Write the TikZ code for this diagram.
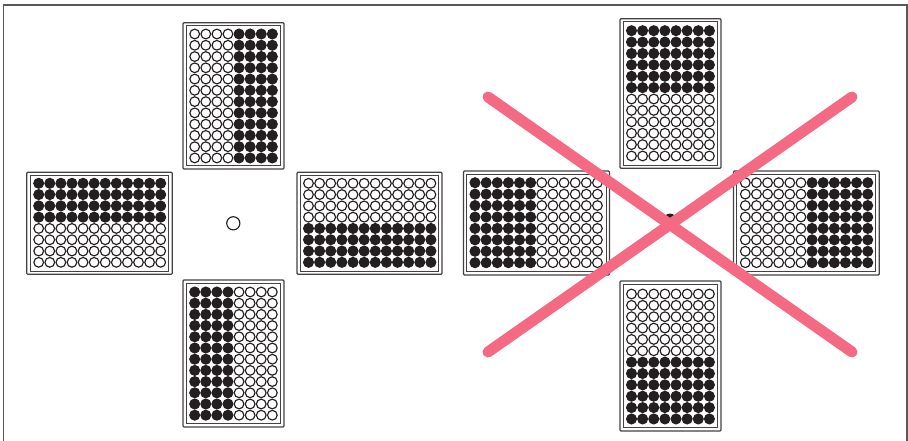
\documentclass[tikz,border=0pt]{standalone}
\definecolor{ink}{HTML}{231F20}
\definecolor{crossred}{HTML}{F46A82}
\tikzset{
  plateouter/.style={draw=ink!85,line width=1.2pt,rounded corners=1pt,fill=white},
  plateinner/.style={draw=ink!85,line width=1.1pt},
  wellopen/.style={draw=ink,line width=1.15pt,fill=white},
  wellfull/.style={draw=ink,line width=1pt,fill=ink},
  crossline/.style={draw=crossred,line width=11pt,line cap=round},
  framing/.style={draw=ink!75,line width=1.3pt}
}
% outer corners #1,#2 -- #3,#4; first well #5,#6; well pitch #7,#8;
% columns, rows and fill rule are read from \pcols, \prows and \pfull (a condition on \c and \r)
\newcommand{\plate}[8]{%
  \draw[plateouter] (#1,#2) rectangle (#3,#4);
  \draw[plateinner] (#1+3.4,#2+3.2) rectangle (#3-3.4,#4-3.2);
  \foreach \c in {1,...,\pcols}{
    \foreach \r in {1,...,\prows}{
      \pgfmathsetmacro{\xx}{#5+(\c-1)*#7}
      \pgfmathsetmacro{\yy}{#6+(\r-1)*#8}
      \pgfmathtruncatemacro{\isfull}{(\pfull)?1:0}
      \ifnum\isfull=1
        \path[wellfull] (\xx,\yy) circle (5);
      \else
        \path[wellopen] (\xx,\yy) circle (4.85);
      \fi
    }
  }}
\begin{document}
\begin{tikzpicture}[x=1pt,y=-1pt]
\useasboundingbox (0,0) rectangle (908,441);
\draw[framing] (3.5,441) -- (3.5,5) -- (907,5) -- (907,441);
% left group
\def\pcols{8}\def\prows{12}
\def\pfull{\c>4}
\plate{183}{22.7}{284}{169}{194.7}{34}{11.09}{11.27}
\def\pfull{\c<=4}
\plate{183}{280}{284}{427}{194.7}{292}{11.09}{11.2}
\def\pcols{12}\def\prows{8}
\def\pfull{\r<=4}
\plate{26.7}{172.3}{172.3}{274.3}{38.7}{183.3}{11.09}{11.29}
\def\pfull{\r>4}
\plate{297}{172.3}{442}{274.3}{308.5}{183.3}{11.13}{11.29}
\path[wellopen] (233.3,223.3) circle (6.6);
% right group
\def\pcols{8}\def\prows{12}
\def\pfull{\r<=6}
\plate{620}{18.7}{721}{168.3}{631.5}{30.7}{11.13}{11.39}
\def\pfull{\r>6}
\plate{620}{281}{721}{431}{631.5}{294}{11.13}{11.36}
\def\pcols{12}\def\prows{8}
\def\pfull{\c<=6}
\plate{463.5}{171}{609.5}{275}{475}{182.7}{11.13}{11.43}
\def\pfull{\c>6}
\plate{733.5}{171}{879.3}{275}{745.3}{182.7}{11.13}{11.43}
\path[wellfull] (670,220.3) circle (6.2);
% cross
\draw[crossline] (488,97) -- (852,352);
\draw[crossline] (852,97) -- (488,352);
\end{tikzpicture}
\end{document}
